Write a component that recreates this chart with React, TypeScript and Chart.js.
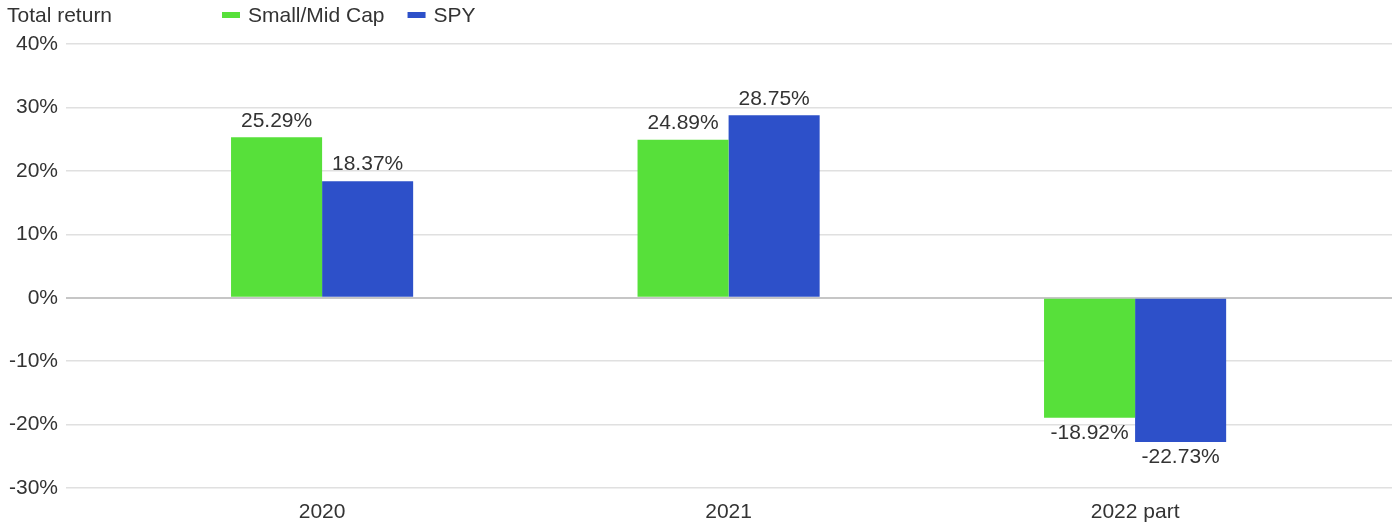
import React, { useEffect, useRef } from "react";
import { Chart, registerables } from "chart.js";

Chart.register(...registerables);

const categories = ["2020", "2021", "2022 part"];
const smallMidCap = [25.29, 24.89, -18.92];
const spy = [18.37, 28.75, -22.73];
const seriesNames = ["Small/Mid Cap", "SPY"];
const seriesColors = ["#57e03a", "#2d50c9"];
const yTicks = [-30, -20, -10, 0, 10, 20, 30, 40];
const chartTitle = "Total return";

const FONT = "Arial, 'Liberation Sans', sans-serif";
const FS = 21;
const TEXT = "#333333";

const headerPlugin = {
  id: "header",
  afterDraw(chart: any) {
    const ctx = chart.ctx;
    ctx.save();
    ctx.font = `${FS}px ${FONT}`;
    ctx.fillStyle = TEXT;
    ctx.textBaseline = "middle";
    ctx.textAlign = "left";
    ctx.fillText(chartTitle, 7, 16);
    let x = 222;
    seriesNames.forEach((name, i) => {
      ctx.fillStyle = seriesColors[i];
      ctx.fillRect(x, 12, 18, 6);
      ctx.fillStyle = TEXT;
      ctx.fillText(name, x + 26, 16);
      x += 26 + ctx.measureText(name).width + 23;
    });
    ctx.restore();
  },
};

const valueLabelPlugin = {
  id: "valueLabels",
  afterDatasetsDraw(chart: any) {
    const ctx = chart.ctx;
    ctx.save();
    ctx.font = `${FS}px ${FONT}`;
    ctx.fillStyle = TEXT;
    ctx.textAlign = "center";
    chart.data.datasets.forEach((ds: any, di: number) => {
      const meta = chart.getDatasetMeta(di);
      meta.data.forEach((bar: any, i: number) => {
        const v = ds.data[i].y;
        const txt = v.toFixed(2) + "%";
        if (v >= 0) {
          ctx.textBaseline = "bottom";
          ctx.fillText(txt, bar.x, bar.y - 6);
        } else {
          ctx.textBaseline = "top";
          ctx.fillText(txt, bar.x, bar.y + 5);
        }
      });
    });
    ctx.restore();
  },
};

export default function App() {
  const ref = useRef<HTMLCanvasElement>(null);
  useEffect(() => {
    if (!ref.current) return;
    const chart = new Chart(ref.current, {
      type: "bar",
      data: {
        datasets: [
          {
            label: seriesNames[0],
            data: categories.map((_, i) => ({ x: i, y: smallMidCap[i] })),
            backgroundColor: seriesColors[0],
          },
          {
            label: seriesNames[1],
            data: categories.map((_, i) => ({ x: i, y: spy[i] })),
            backgroundColor: seriesColors[1],
          },
        ] as any,
      },
      options: {
        animation: false,
        responsive: true,
        maintainAspectRatio: false,
        layout: { padding: { top: 44, right: 2, left: 0, bottom: 0 } },
        datasets: { bar: { barPercentage: 1, categoryPercentage: 0.448 } } as any,
        plugins: {
          legend: { display: false },
          title: { display: false },
          tooltip: { enabled: false },
        },
        scales: {
          x: {
            type: "linear",
            offset: false,
            min: -0.63,
            max: 2.632,
            afterBuildTicks(scale: any) {
              scale.ticks = categories.map((_, i) => ({ value: i }));
            },
            afterFit(scale: any) {
              scale.height = 35;
            },
            ticks: {
              callback: (v: any) => categories[v as number] ?? "",
              font: { size: FS, family: FONT },
              color: TEXT,
              padding: 12,
              maxRotation: 0,
              autoSkip: false,
            },
            grid: { display: false, drawTicks: false },
            border: { display: false },
          },
          y: {
            min: -30,
            max: 40,
            afterBuildTicks(scale: any) {
              scale.ticks = yTicks.map((v) => ({ value: v }));
            },
            afterFit(scale: any) {
              scale.width = 66;
            },
            ticks: {
              callback: (v: any) => v + "%",
              font: { size: FS, family: FONT },
              color: TEXT,
              padding: 8,
            },
            grid: {
              drawTicks: false,
              color: (c: any) => (c.tick && c.tick.value === 0 ? "#c6c6c6" : "#e0e0e0"),
              lineWidth: (c: any) => (c.tick && c.tick.value === 0 ? 2 : 1.5),
            },
            border: { display: false },
          },
        },
      },
      plugins: [headerPlugin, valueLabelPlugin],
    });
    return () => chart.destroy();
  }, []);
  return (
    <div style={{ position: "fixed", left: 0, top: 0, width: 1394, height: 523, background: "#fff" }}>
      <canvas ref={ref} />
    </div>
  );
}
